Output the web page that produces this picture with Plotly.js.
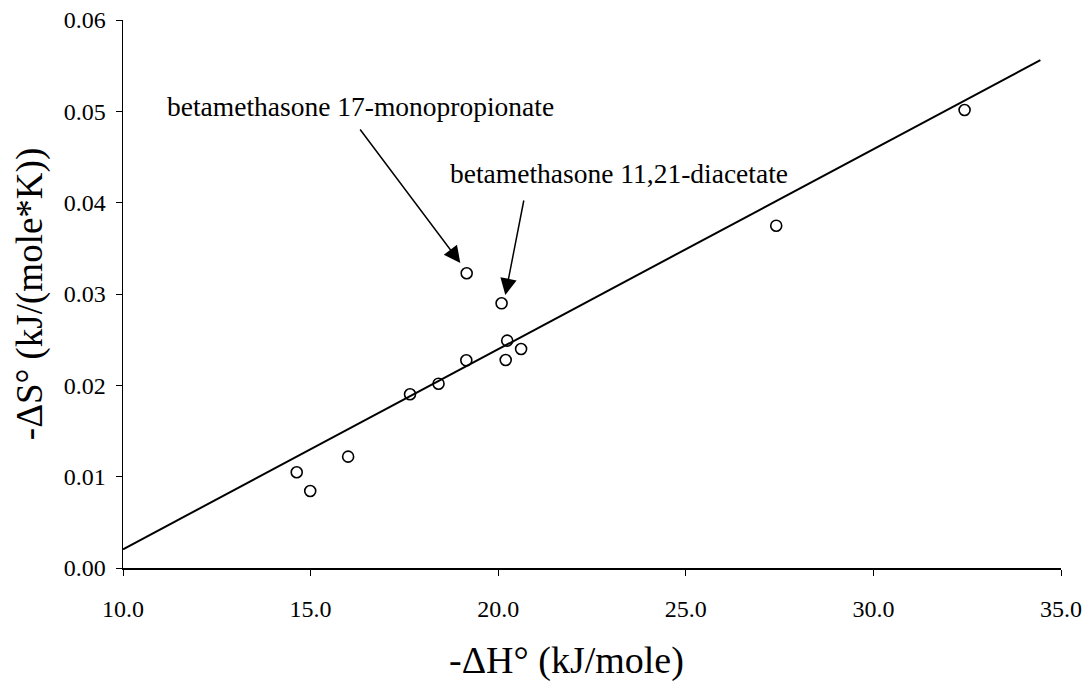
<!DOCTYPE html>
<html>
<head>
<meta charset="utf-8">
<script src="https://cdn.plot.ly/plotly-3.0.1.min.js"></script>
<style>
  html, body { margin: 0; padding: 0; background: #fff; }
  #chart { width: 1085px; height: 684px; }
</style>
</head>
<body>
<div id="chart"></div>
<script>
// Enthalpy / entropy values (kJ/mole and kJ/(mole*K))
const negDeltaH = [14.63, 14.99, 16.00, 17.65, 18.41, 19.15, 19.16, 20.09, 20.24, 20.20, 20.61, 27.41, 32.43];
const negDeltaS = [0.01048, 0.00843, 0.01219, 0.01902, 0.02018, 0.02274, 0.03227, 0.02898, 0.02489, 0.02277, 0.02398, 0.03748, 0.05015];

// Linear fit drawn across the plotted range
const fitX = [10.0, 34.45];
const fitY = [0.00205, 0.0556];

// Labelled compounds: text position, arrow tail and arrow tip
const labelText = ['betamethasone 17-monopropionate', 'betamethasone 11,21-diacetate'];
const labelX = [16.32, 23.21];
const labelY = [0.05048, 0.04314];
const tailX = [16.29, 20.69];
const tailY = [0.04818, 0.0404];
const tipX = [18.99, 20.19];
const tipY = [0.0334, 0.02989];

const xTickVals = [10, 15, 20, 25, 30, 35];
const yTickVals = [0, 0.01, 0.02, 0.03, 0.04, 0.05, 0.06];

const xTitle = '-ΔH° (kJ/mole)';
const yTitle = '-ΔS° (kJ/(mole*K))';

const serif = 'Liberation Serif, Times New Roman, serif';

const traces = [
  {
    x: fitX, y: fitY, type: 'scatter', mode: 'lines',
    line: { color: '#000', width: 2 }, cliponaxis: false, hoverinfo: 'skip'
  },
  {
    x: negDeltaH, y: negDeltaS, type: 'scatter', mode: 'markers',
    marker: { symbol: 'circle-open', size: 11, color: '#000', line: { color: '#000', width: 1.6 } }
  }
];

const annotations = [];
for (let i = 0; i < labelText.length; i++) {
  annotations.push({
    x: labelX[i], y: labelY[i], xref: 'x', yref: 'y',
    text: labelText[i], showarrow: false,
    font: { family: serif, size: 27.5, color: '#000' }
  });
  annotations.push({
    x: tipX[i], y: tipY[i], ax: tailX[i], ay: tailY[i],
    xref: 'x', yref: 'y', axref: 'x', ayref: 'y',
    text: '', showarrow: true, arrowhead: 2, arrowsize: 2.2, arrowwidth: 1.5,
    arrowcolor: '#000', standoff: 0
  });
}
// x-axis title, set slightly left of the plot centre, below the tick labels
annotations.push({
  x: 0.4723, y: -0.168, xref: 'paper', yref: 'paper',
  xanchor: 'center', yanchor: 'middle',
  text: xTitle, showarrow: false,
  font: { family: serif, size: 38, color: '#000' }
});

const layout = {
  width: 1085, height: 684,
  margin: { l: 123, r: 24, t: 20, b: 116 },
  paper_bgcolor: '#fff', plot_bgcolor: '#fff',
  showlegend: false,
  font: { family: serif, color: '#000' },
  xaxis: {
    range: [10, 35], tickvals: xTickVals, tickformat: '.1f',
    showgrid: false, zeroline: false,
    showline: true, linecolor: '#000', linewidth: 1.5,
    ticks: 'outside', ticklen: 6, tickcolor: '#000', tickwidth: 1,
    ticklabelstandoff: 13,
    tickfont: { family: serif, size: 24, color: '#000' }
  },
  yaxis: {
    range: [0, 0.06], tickvals: yTickVals, tickformat: '.2f',
    showgrid: false, zeroline: false,
    showline: true, linecolor: '#000', linewidth: 1.5,
    ticks: 'outside', ticklen: 6, tickcolor: '#000', tickwidth: 1,
    ticklabelstandoff: 5,
    tickfont: { family: serif, size: 24, color: '#000' },
    title: { text: yTitle, font: { family: serif, size: 37, color: '#000' }, standoff: 10 }
  },
  annotations: annotations
};

Plotly.newPlot('chart', traces, layout, { staticPlot: true, displayModeBar: false });
</script>
</body>
</html>
